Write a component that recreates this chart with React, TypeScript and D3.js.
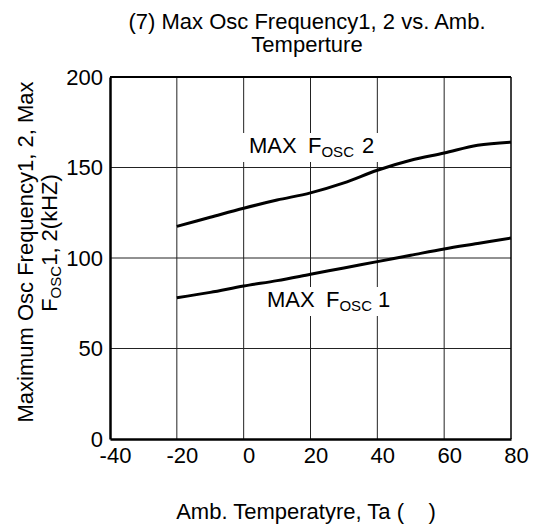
import * as d3 from 'd3';
import React, { useEffect, useRef } from 'react';

const temps2 = [-20, -10, 0, 10, 20, 30, 40, 50, 60, 70, 80];
const fosc2 = [117.5, 122.5, 127.5, 132, 136, 141.5, 148.5, 154, 158, 162.3, 164];
const temps1 = [-20, -10, 0, 10, 20, 30, 40, 50, 60, 70, 80];
const fosc1 = [78, 81, 84.5, 87.5, 91, 94.5, 98, 101.5, 105, 108, 111];
const xTicks = [-40, -20, 0, 20, 40, 60, 80];
const yTicks = [0, 50, 100, 150, 200];

const App: React.FC = () => {
  const svgRef = useRef<SVGSVGElement | null>(null);

  useEffect(() => {
    if (!svgRef.current) return;
    const svg = d3.select(svgRef.current);
    svg.selectAll('*').remove();

    const left = 110, right = 511, top = 77, bottom = 439;
    const font = 'Liberation Sans, Arial, sans-serif';

    const x = d3.scaleLinear().domain([-40, 80]).range([left, right]);
    const y = d3.scaleLinear().domain([0, 200]).range([bottom, top]);

    // grid
    const grid = svg.append('g').attr('stroke', '#222').attr('stroke-width', 1);
    xTicks.slice(1, -1).forEach((t) => {
      grid.append('line').attr('x1', x(t)).attr('x2', x(t)).attr('y1', top).attr('y2', bottom);
    });
    yTicks.slice(1, -1).forEach((t) => {
      grid.append('line').attr('x1', left).attr('x2', right).attr('y1', y(t)).attr('y2', y(t));
    });

    // frame
    svg.append('line').attr('x1', left).attr('x2', right).attr('y1', top).attr('y2', top)
      .attr('stroke', '#000').attr('stroke-width', 2);
    svg.append('line').attr('x1', right).attr('x2', right).attr('y1', top).attr('y2', bottom)
      .attr('stroke', '#000').attr('stroke-width', 1.5);

    // axes
    const yAxis = svg.append('g').attr('transform', `translate(${left},0)`)
      .call(d3.axisLeft(y).tickValues(yTicks).tickSize(0).tickPadding(7).tickFormat((d) => String(d)));
    yAxis.select('.domain').attr('stroke', '#000').attr('stroke-width', 2.5);
    yAxis.selectAll('text').attr('font-family', font).attr('font-size', 22).attr('fill', '#000');

    const xAxis = svg.append('g').attr('transform', `translate(0,${bottom})`)
      .call(d3.axisBottom(x).tickValues(xTicks).tickSize(0).tickPadding(8).tickFormat((d) => String(d)));
    xAxis.select('.domain').attr('stroke', '#000').attr('stroke-width', 2.5);
    xAxis.selectAll('text').attr('font-family', font).attr('font-size', 22).attr('fill', '#000')
      .attr('dx', 5);

    // labels with white backgrounds
    const label = (tx: number, ty: number, fx: number, nx: number, num: string) => {
      const g = svg.append('g');
      const rect = g.append('rect').attr('fill', '#fff');
      const t = g.append('text').attr('y', ty).attr('font-family', font)
        .attr('font-size', 22).attr('fill', '#000');
      t.append('tspan').attr('x', tx).text('MAX');
      t.append('tspan').attr('x', fx).text('F');
      t.append('tspan').attr('font-size', 15).attr('dy', 4).text('OSC');
      t.append('tspan').attr('x', nx).attr('dy', -4).text(num);
      const b = (t.node() as SVGTextElement).getBBox();
      rect.attr('x', b.x - 6).attr('y', b.y).attr('width', b.width + 10).attr('height', b.height + 2);
    };

    const line = d3.line<number>().curve(d3.curveCatmullRom.alpha(0.5));

    label(249, 153, 308, 362, '2');
    label(267, 307, 326, 378, '1');

    svg.append('path')
      .attr('d', line.x((_, i) => x(temps2[i])).y((d) => y(d))(fosc2))
      .attr('fill', 'none').attr('stroke', '#000').attr('stroke-width', 3);
    svg.append('path')
      .attr('d', line.x((_, i) => x(temps1[i])).y((d) => y(d))(fosc1))
      .attr('fill', 'none').attr('stroke', '#000').attr('stroke-width', 3);

    // title
    const title = svg.append('text').attr('text-anchor', 'middle').attr('font-family', font)
      .attr('font-size', 22).attr('fill', '#000');
    title.append('tspan').attr('x', 307).attr('y', 29).text('(7) Max Osc Frequency1, 2 vs. Amb.');
    title.append('tspan').attr('x', 307).attr('y', 52).text('Temperture');

    // y title
    const yt = svg.append('text').attr('text-anchor', 'middle').attr('font-family', font)
      .attr('font-size', 22).attr('fill', '#000')
      .attr('transform', 'rotate(-90)');
    yt.append('tspan').attr('x', -252).attr('y', 33).text('Maximum Osc Frequency1, 2, Max');
    const l2 = yt.append('tspan').attr('x', -243).attr('y', 57);
    l2.append('tspan').text('F');
    l2.append('tspan').attr('font-size', 15).attr('dy', 4).text('OSC');
    l2.append('tspan').attr('dy', -4).text('1, 2(kHZ)');

    // x title
    svg.append('text').attr('x', 306).attr('y', 519).attr('text-anchor', 'middle')
      .attr('font-family', font).attr('font-size', 22).attr('fill', '#000')
      .style('white-space', 'pre')
      .text('Amb. Temperatyre, Ta (    )');
  }, []);

  return (
    <svg ref={svgRef} width={533} height={527}
      style={{ position: 'absolute', left: 0, top: 0, background: '#fff' }} />
  );
};

export default App;
